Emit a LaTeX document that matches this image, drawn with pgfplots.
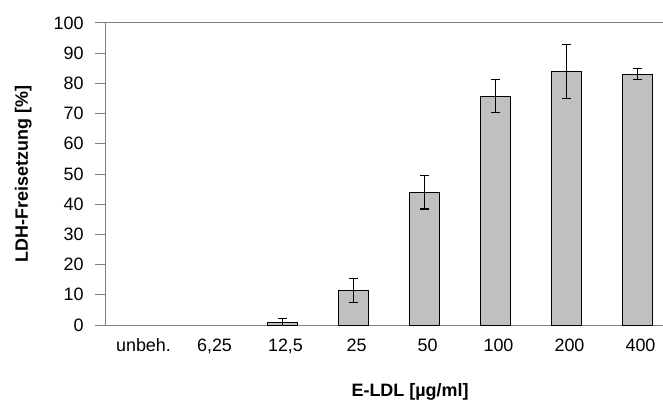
\documentclass[border=0pt]{standalone}
\usepackage{fontspec}
\setmainfont{Liberation Sans}
\usepackage{pgfplots}
\pgfplotsset{compat=1.18}
\definecolor{barfill}{HTML}{C0C0C0}
\definecolor{axisgray}{HTML}{808080}

\begin{document}
\begin{tikzpicture}[x=1bp,y=1bp]
\path[use as bounding box] (0,0) rectangle (663,406);
\begin{axis}[
    at={(105bp,81bp)}, anchor=south west,
    scale only axis, width=568bp, height=302bp,
    xmin=-0.5, xmax=7.5, ymin=0, ymax=100,
    ytick={0,10,...,100},
    xtick={0,...,7},
    xticklabels={unbeh.,{6,25},{12,5},25,50,100,200,400},
    xtick style={draw=none},
    ytick pos=left, tick align=outside, major tick length=10bp,
    ytick style={axisgray, line width=1pt},
    axis line style={axisgray, line width=1pt},
    /pgf/number format/assume math mode=true,
    tick label style={font=\fontsize{18}{21}\selectfont, black},
    xticklabel style={xshift=3bp},
    yticklabel style={xshift=-8bp},
    label style={font=\bfseries\fontsize{18}{21}\selectfont},
    ylabel={LDH-Freisetzung [\%]},
    ylabel style={at={(axis description cs:-0.144,0.5)}, anchor=center},
    xlabel={E-LDL [µg/ml]},
    xlabel style={at={(axis description cs:0.537,-0.222)}, anchor=center},
    ybar, bar width=30bp,
  ]
  \addplot[fill=barfill, draw=black, line width=0.9pt,
    error bars/.cd, y dir=both, y explicit,
    error bar style={black, line width=1.1pt},
    error mark options={rotate=90, mark size=4.5bp, line width=1.1pt, black}]
    table[x=x, y=y, y error=e] {
      x y    e
      2 0.7  1.5
      3 11.4 4.0
      4 43.9 5.5
      5 75.8 5.4
      6 84.0 9.0
      7 83.1 1.8
    };
\end{axis}
\end{tikzpicture}
\end{document}
